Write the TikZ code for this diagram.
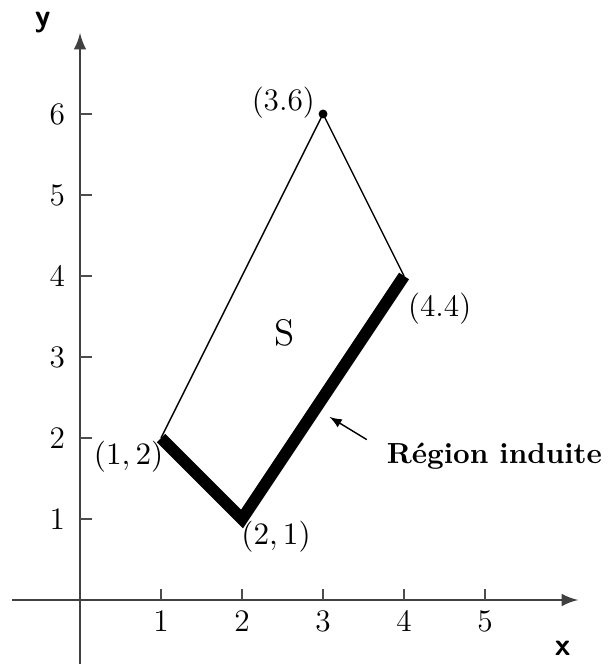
\documentclass[tikz,border=0pt]{standalone}
\usepackage{amsmath,amssymb}
\usepackage{xcolor}
\usepackage{tikz}
\usetikzlibrary{calc, positioning}

\begin{document}
\begin{tikzpicture}[>=latex, font=\fontsize{11}{13}\selectfont]
			\useasboundingbox (-0.988,-0.79) rectangle (6.52,7.407);
			% axes
			\coordinate (xstart) at (-0.84,0);
			\coordinate (xend) at (6.15,0);
			\coordinate (ystart) at (0,-0.79);
			\coordinate (yend) at (0,7.0);
			\draw[->, line width=1pt, black!75] (xstart) -- (xend);
			\draw[->, line width=1pt, black!75] (ystart) -- (yend);
			\node (xlab) at (5.96,-0.6) {\sffamily\bfseries x};
			\node (ylab) at (-0.46,7.13) {\sffamily\bfseries y};
			
			% ticks
			\draw[black!70, line width=0.6pt] (1,0) -- (1,0.13) (2,0) -- (2,0.13) (3,0) -- (3,0.13) (4,0) -- (4,0.13) (5,0) -- (5,0.13);
			\draw[black!70, line width=0.6pt] (0,1) -- (0.15,1) (0,2) -- (0.15,2) (0,3) -- (0.15,3) (0,4) -- (0.15,4) (0,5) -- (0.15,5) (0,6) -- (0.15,6);
			\node (x1) at (1,-0.26) {1};
			\node (x2) at (2,-0.26) {2};
			\node (x3) at (3,-0.26) {3};
			\node (x4) at (4,-0.26) {4};
			\node (x5) at (5,-0.26) {5};
			\node (y1) at (-0.28,1) {1};
			\node (y2) at (-0.28,2) {2};
			\node (y3) at (-0.28,3) {3};
			\node (y4) at (-0.28,4) {4};
			\node (y5) at (-0.28,5) {5};
			\node (y6) at (-0.28,6) {6};
			
			% region S
			\coordinate (A) at (1,2);
			\coordinate (B) at (2,1);
			\coordinate (C) at (4,4);
			\coordinate (D) at (3,6);
			\draw[line width=0.5pt] (C) -- (D) -- (A);
			\draw[line width=4.2pt, line join=miter] (A) -- (B) -- (C);
			\fill (D) circle (0.055);
			
			\node (lA) at (0.6,1.77) {$(1,2)$};
			\node (lB) at (2.42,0.78) {$(2,1)$};
			\node (lC) at (4.44,3.6) {(4.4)};
			\node (lD) at (2.51,6.14) {(3.6)};
			\node (S) at (2.53,3.3) {\fontsize{13}{15}\selectfont S};
			
			% induced region
			\node (induite) [anchor=west, inner sep=0pt, font=\fontsize{10.2}{12}\selectfont\bfseries] at (3.78,1.77) {Région induite};
			\coordinate (tail) at (3.54,1.98);
			\coordinate (head) at (3.08,2.26);
			\draw[->, line width=0.5pt] (tail) -- (head);
		\end{tikzpicture}
\end{document}
